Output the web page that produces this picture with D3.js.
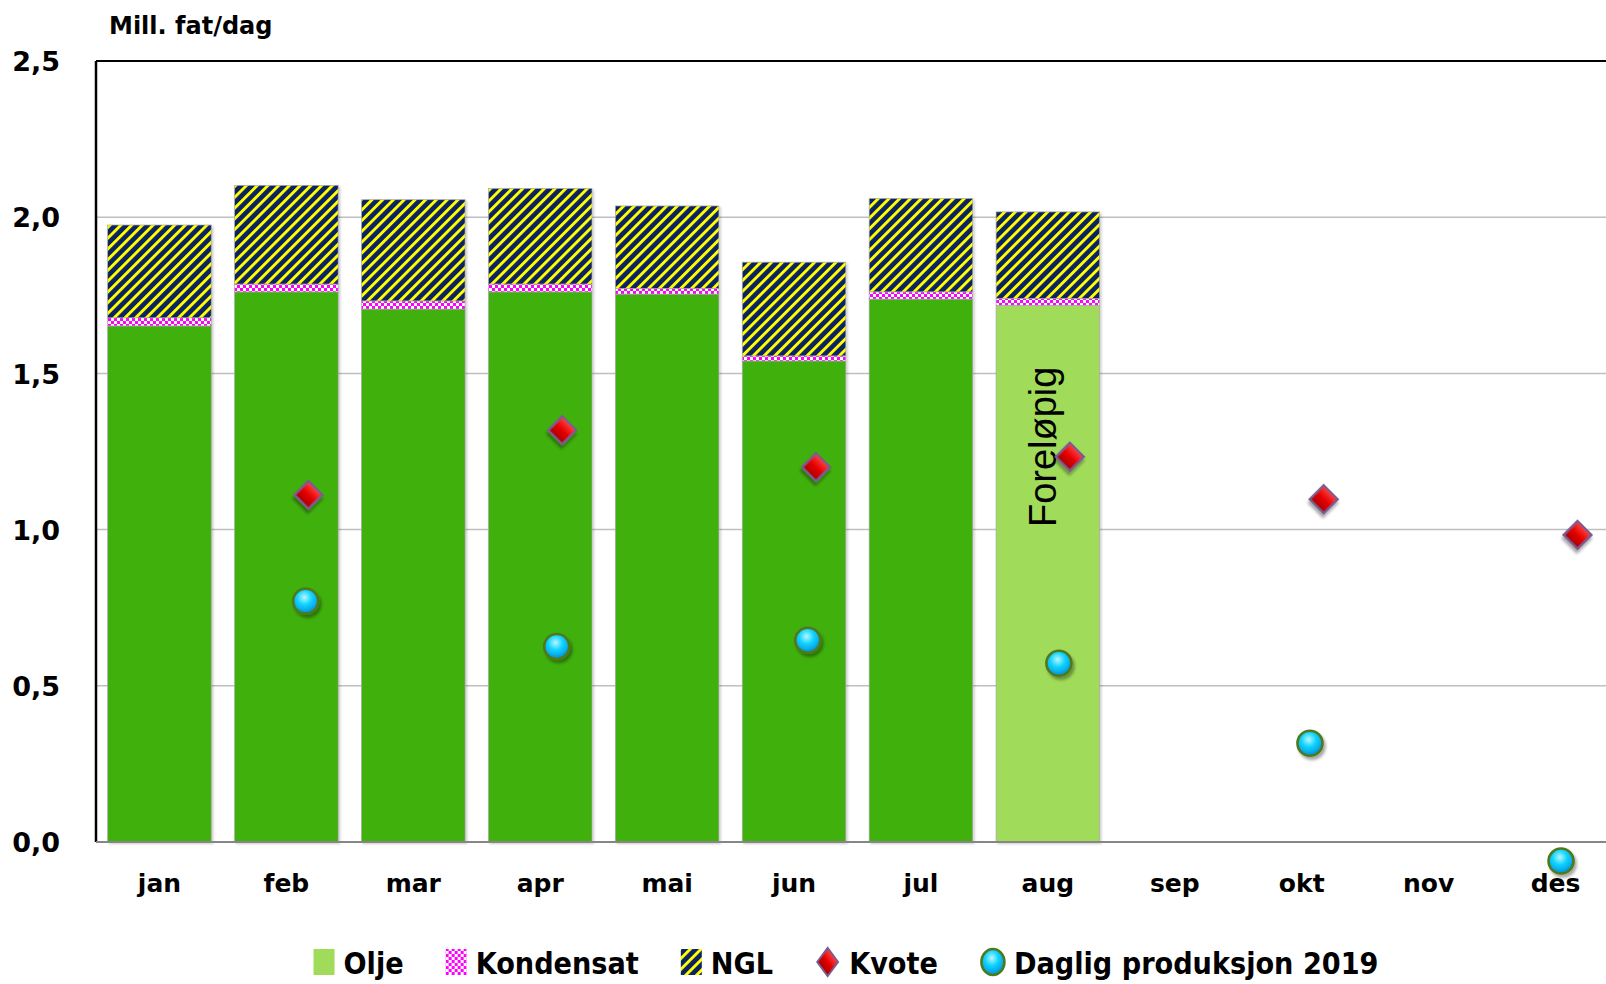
<!DOCTYPE html>
<html><head><meta charset="utf-8">
<script src="https://cdn.jsdelivr.net/npm/d3@7"></script>
<style>body{margin:0;background:#fff;overflow:hidden} svg{display:block}</style>
</head><body>
<svg id="chart" width="1606" height="984"></svg>
<script>
// ---------- data ----------
const months = ["jan","feb","mar","apr","mai","jun","jul","aug","sep","okt","nov","des"];
const barMonths = ["jan","feb","mar","apr","mai","jun","jul","aug"];
const olje = [1.652, 1.761, 1.706, 1.761, 1.754, 1.540, 1.738, 1.718];
const kondensat = [0.026, 0.025, 0.026, 0.025, 0.018, 0.016, 0.023, 0.022];
const ngl = [0.297, 0.316, 0.324, 0.306, 0.264, 0.300, 0.299, 0.277];
const preliminaryMonths = ["aug"];
const kvoteMonths = [2, 4, 6, 8, 10, 12];
const kvote = [1.111, 1.318, 1.200, 1.233, 1.097, 0.983];
const prodMonths = [2, 4, 6, 8, 10, 12];
const daglig = [0.771, 0.626, 0.646, 0.572, 0.316, -0.061];
const yTicks = [0, 0.5, 1.0, 1.5, 2.0, 2.5];
const legendLabels = ["Olje", "Kondensat", "NGL", "Kvote", "Daglig produksjon 2019"];
const yTitle = "Mill. fat/dag";
const noteText = "Foreløpig";

// ---------- layout ----------
const svg = d3.select("#chart");
const X0 = 96, X1 = 1619, Y0 = 842, YT = 61;
const x = d3.scaleBand().domain(months).range([X0, X1]).paddingInner(0.184).paddingOuter(0.092);
const y = d3.scaleLinear().domain([0, 2.5]).range([Y0, YT]);
const cx = m => x(m) + x.bandwidth() / 2;
const kx = d3.scaleLinear().domain([2, 12]).range([cx("feb") + 22, cx("des") + 22]);
const px = d3.scaleLinear().domain([2, 12]).range([cx("feb") + 19.3, cx("des") + 5.5]);

const C = {
  olje: "#40B00A", oljePrelim: "#A0DC5A", navy: "#0C2360", yellow: "#FFFF00",
  magenta: "#FF00FF", grid: "#BFBFBF", axis: "#868686"
};
const FONT = "'DejaVu Sans', sans-serif";

// ---------- defs ----------
const defs = svg.append("defs");
const PW = 7.6;
const pN = defs.append("pattern").attr("id", "nglPat").attr("patternUnits", "userSpaceOnUse")
  .attr("width", PW).attr("height", PW).attr("patternTransform", "rotate(45)");
pN.append("rect").attr("width", PW).attr("height", PW).attr("fill", C.navy);
pN.append("rect").attr("width", 2.9).attr("height", PW).attr("fill", C.yellow);
const pK = defs.append("pattern").attr("id", "konPat").attr("patternUnits", "userSpaceOnUse")
  .attr("width", 6).attr("height", 6);
pK.append("rect").attr("width", 6).attr("height", 6).attr("fill", "#fff");
pK.append("rect").attr("width", 3).attr("height", 3).attr("fill", C.magenta);
pK.append("rect").attr("x", 3).attr("y", 3).attr("width", 3).attr("height", 3).attr("fill", C.magenta);

const sh = defs.append("filter").attr("id", "shadow").attr("x", "-50%").attr("y", "-50%").attr("width", "200%").attr("height", "200%");
sh.append("feDropShadow").attr("dx", 2).attr("dy", 3).attr("stdDeviation", 1.8).attr("flood-color", "#000").attr("flood-opacity", 0.35);
const shb = defs.append("filter").attr("id", "barShadow").attr("x", "-10%").attr("y", "-10%").attr("width", "120%").attr("height", "120%");
shb.append("feDropShadow").attr("dx", 1.5).attr("dy", 1.5).attr("stdDeviation", 1.2).attr("flood-color", "#000").attr("flood-opacity", 0.22);

const gD = defs.append("linearGradient").attr("id", "diamondGrad").attr("x1", 0).attr("y1", 0).attr("x2", 0).attr("y2", 1);
gD.append("stop").attr("offset", "0%").attr("stop-color", "#FF4040");
gD.append("stop").attr("offset", "50%").attr("stop-color", "#E50000");
gD.append("stop").attr("offset", "100%").attr("stop-color", "#A80000");
const gC = defs.append("radialGradient").attr("id", "circGrad").attr("cx", "45%").attr("cy", "35%").attr("r", "65%");
gC.append("stop").attr("offset", "0%").attr("stop-color", "#B8F6FF");
gC.append("stop").attr("offset", "45%").attr("stop-color", "#10D4FF");
gC.append("stop").attr("offset", "100%").attr("stop-color", "#0090D8");

svg.append("rect").attr("width", 1606).attr("height", 984).attr("fill", "#fff");

// ---------- grid ----------
svg.append("g").selectAll("line").data(yTicks.filter(t => t > 0 && t < 2.5)).join("line")
  .attr("x1", X0).attr("x2", X1).attr("y1", d => y(d)).attr("y2", d => y(d))
  .attr("stroke", C.grid).attr("stroke-width", 1.5);

// ---------- bars ----------
const rows = barMonths.map((m, i) => ({ month: m, olje: olje[i], kondensat: kondensat[i], ngl: ngl[i] }));
const stack = d3.stack().keys(["olje", "kondensat", "ngl"])(rows);
const fills = {
  olje: d => preliminaryMonths.includes(d.data.month) ? C.oljePrelim : C.olje,
  kondensat: () => "url(#konPat)",
  ngl: () => "url(#nglPat)"
};
const gBars = svg.append("g").attr("filter", "url(#barShadow)");
stack.forEach(layer => {
  gBars.append("g").selectAll("rect").data(layer).join("rect")
    .attr("x", d => x(d.data.month)).attr("width", x.bandwidth())
    .attr("y", d => y(d[1])).attr("height", d => y(d[0]) - y(d[1]))
    .attr("fill", fills[layer.key])
    .attr("stroke", "#A8A8A8").attr("stroke-width", 0.7);
});

// note text
svg.append("text")
  .attr("transform", `translate(${cx("aug") + 8.5},${y(1.265)}) rotate(-90)`)
  .attr("text-anchor", "middle").attr("font-family", "'Liberation Sans', Arial, sans-serif")
  .attr("font-size", 38).attr("fill", "#000").text(noteText);

// ---------- frame / axes ----------
svg.append("line").attr("x1", X0).attr("x2", X1 + 10).attr("y1", YT).attr("y2", YT).attr("stroke", "#000").attr("stroke-width", 2);
svg.append("line").attr("x1", X0).attr("x2", X0).attr("y1", YT).attr("y2", Y0).attr("stroke", "#000").attr("stroke-width", 2.5);
svg.append("line").attr("x1", X0).attr("x2", X1 + 10).attr("y1", Y0).attr("y2", Y0).attr("stroke", C.axis).attr("stroke-width", 2.2);

const yAxis = d3.axisLeft(y).tickValues(yTicks).tickSize(0).tickPadding(0)
  .tickFormat(d => d3.format(".1f")(d).replace(".", ","));
const gy = svg.append("g").attr("transform", `translate(${X0 - 36},0)`).call(yAxis);
gy.select(".domain").remove();
gy.selectAll("text").attr("font-family", FONT).attr("font-weight", "bold").attr("font-size", 27)
  .attr("fill", "#000").attr("dy", "0.36em");

const xAxis = d3.axisBottom(x).tickSize(0).tickPadding(0);
const gx = svg.append("g").attr("transform", `translate(0,${Y0})`).call(xAxis);
gx.select(".domain").remove();
gx.selectAll("text").attr("font-family", FONT).attr("font-weight", "bold").attr("font-size", 25)
  .attr("fill", "#000").attr("dy", 0).attr("y", 50);

svg.append("text").attr("x", 109).attr("y", 34).attr("font-family", FONT).attr("font-weight", "bold")
  .attr("font-size", 24).attr("fill", "#000").text(yTitle);

// ---------- scatter ----------
const diamondPath = d3.symbol(d3.symbolSquare).size(390)();
svg.append("g").selectAll("path").data(kvote.map((v, i) => ({ m: kvoteMonths[i], v }))).join("path")
  .attr("d", diamondPath)
  .attr("transform", d => `translate(${kx(d.m)},${y(d.v)}) rotate(45)`)
  .attr("fill", "url(#diamondGrad)").attr("stroke", "#7A5C8E").attr("stroke-width", 2.4)
  .attr("filter", "url(#shadow)");

svg.append("g").selectAll("circle").data(daglig.map((v, i) => ({ m: prodMonths[i], v }))).join("circle")
  .attr("cx", d => px(d.m)).attr("cy", d => y(d.v)).attr("r", 12.5)
  .attr("fill", "url(#circGrad)").attr("stroke", "#4F7A1C").attr("stroke-width", 2.6)
  .attr("filter", "url(#shadow)");

// ---------- legend ----------
const legend = svg.append("g");
const LY = 962;
const SX = 0.905;
const items = legend.selectAll("g").data(legendLabels).join("g");
items.each(function (lab, i) {
  const g = d3.select(this);
  if (i === 0) g.append("rect").attr("x", 0).attr("y", LY - 13).attr("width", 21).attr("height", 26).attr("fill", C.oljePrelim);
  if (i === 1) g.append("rect").attr("x", 0).attr("y", LY - 13).attr("width", 21).attr("height", 26).attr("fill", "url(#konPat)");
  if (i === 2) g.append("rect").attr("x", 0).attr("y", LY - 13).attr("width", 21).attr("height", 26).attr("fill", "url(#nglPat)");
  if (i === 3) g.append("path").attr("d", d3.symbol(d3.symbolSquare).size(300)())
    .attr("transform", `translate(12.5,${LY}) scale(0.85,1.15) rotate(45)`)
    .attr("fill", "url(#diamondGrad)").attr("stroke", "#7A5C8E").attr("stroke-width", 2);
  if (i === 4) g.append("ellipse").attr("cx", 13).attr("cy", LY).attr("rx", 11.5).attr("ry", 13)
    .attr("fill", "url(#circGrad)").attr("stroke", "#4F7A1C").attr("stroke-width", 2.6);
  const tx = i >= 3 ? 34 : 30;
  g.append("text").attr("transform", `translate(${tx},${LY + 12}) scale(${SX},1)`)
    .attr("font-family", FONT).attr("font-weight", "bold").attr("font-size", 30)
    .attr("fill", "#000").text(lab);
});
const widths = [];
items.each(function (lab, i) {
  const t = d3.select(this).select("text").node();
  widths.push((i >= 3 ? 34 : 30) + t.getComputedTextLength() * SX);
});
const gap = 42;
const total = d3.sum(widths) + gap * (widths.length - 1);
let start = 846 - total / 2;
items.attr("transform", (d, i) => {
  const tx = start; start += widths[i] + gap; return `translate(${tx},0)`;
});
</script>
</body></html>
